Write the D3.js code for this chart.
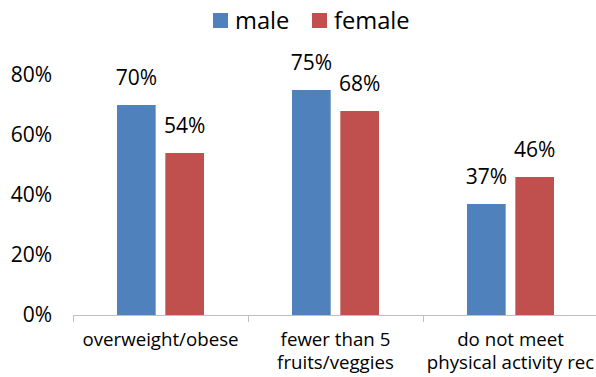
<!DOCTYPE html>
<html>
<head>
<meta charset="utf-8">
<script src="https://cdn.jsdelivr.net/npm/d3@7"></script>
<style>
  html, body { margin: 0; padding: 0; background: #fff; }
  svg text { font-family: "Open Sans", Lato, sans-serif; fill: #000; }
</style>
</head>
<body>
<svg id="chart" width="596" height="377"></svg>
<script>
// Survey results by sex
const categories = [["overweight/obese"], ["fewer than 5", "fruits/veggies"], ["do not meet", "physical activity rec"]];
const seriesNames = ["male", "female"];
const maleValues = [0.70, 0.75, 0.37];
const femaleValues = [0.54, 0.68, 0.46];
const yTicks = [0, 0.2, 0.4, 0.6, 0.8];
const colors = ["#4F81BD", "#C0504D"];

const svg = d3.select("#chart");
const plot = { left: 73, right: 598, top: 75, bottom: 315 };

const x0 = d3.scaleBand().domain(d3.range(categories.length)).range([plot.left, plot.right]).paddingInner(0).paddingOuter(0);
const x1 = d3.scaleBand().domain(seriesNames).range([44, 131]).paddingInner(0.2);
const y = d3.scaleLinear().domain([0, 0.8]).range([plot.bottom, plot.top]);
const color = d3.scaleOrdinal().domain(seriesNames).range(colors);

const rows = categories.map((c, i) => ({ i, values: [maleValues[i], femaleValues[i]] }));

// Bars
const groups = svg.append("g").selectAll("g").data(rows).join("g")
  .attr("transform", d => `translate(${x0(d.i)},0)`);
groups.selectAll("rect").data(d => d.values.map((v, k) => ({ key: seriesNames[k], v })))
  .join("rect")
  .attr("x", d => x1(d.key))
  .attr("width", x1.bandwidth())
  .attr("y", d => y(d.v))
  .attr("height", d => y(0) - y(d.v))
  .attr("fill", d => color(d.key));

// Value labels
groups.selectAll("text.val").data(d => d.values.map((v, k) => ({ key: seriesNames[k], v })))
  .join("text")
  .attr("class", "val")
  .attr("x", d => x1(d.key) + x1.bandwidth() / 2)
  .attr("y", d => y(d.v) - 20)
  .attr("text-anchor", "middle")
  .style("font-size", "21px")
  .text(d => d3.format(".0%")(d.v));

// Y axis labels (no line)
const yAxis = d3.axisLeft(y).tickValues(yTicks).tickFormat(d3.format(".0%")).tickSize(0).tickPadding(0);
const yg = svg.append("g").attr("transform", `translate(${plot.left - 21},0)`).call(yAxis);
yg.select(".domain").remove();
yg.selectAll("text").style("font-size", "21px").style("font-family", "'Open Sans', sans-serif").attr("fill", "#000");

// X axis line with category separators
const xg = svg.append("g").attr("transform", `translate(0,${plot.bottom})`);
xg.append("line").attr("x1", plot.left).attr("x2", plot.right).attr("y1", 0.5).attr("y2", 0.5)
  .attr("stroke", "#BFBFBF").attr("stroke-width", 1);
xg.selectAll("line.sep").data(d3.range(categories.length + 1)).join("line")
  .attr("class", "sep")
  .attr("x1", i => Math.round(plot.left + i * x0.step()) + 0.5)
  .attr("x2", i => Math.round(plot.left + i * x0.step()) + 0.5)
  .attr("y1", 0).attr("y2", 7)
  .attr("stroke", "#BFBFBF");

// Category labels
xg.selectAll("text.cat").data(rows).join("text")
  .attr("class", "cat")
  .attr("x", d => x0(d.i) + x0.bandwidth() / 2)
  .attr("text-anchor", "middle")
  .style("font-size", "18.7px")
  .selectAll("tspan").data(d => categories[d.i]).join("tspan")
  .attr("x", function() { return d3.select(this.parentNode).attr("x"); })
  .attr("y", (d, k) => 31 + k * 23)
  .text(d => d);

// Legend
const legend = svg.append("g");
const legendItems = [{ name: "male", x: 213 }, { name: "female", x: 312 }];
legendItems.forEach(it => {
  legend.append("rect").attr("x", it.x).attr("y", 13).attr("width", 15).attr("height", 15).attr("fill", color(it.name));
  legend.append("text").attr("x", it.x + 22).attr("y", 29).style("font-size", "23.7px").text(it.name);
});
</script>
</body>
</html>
